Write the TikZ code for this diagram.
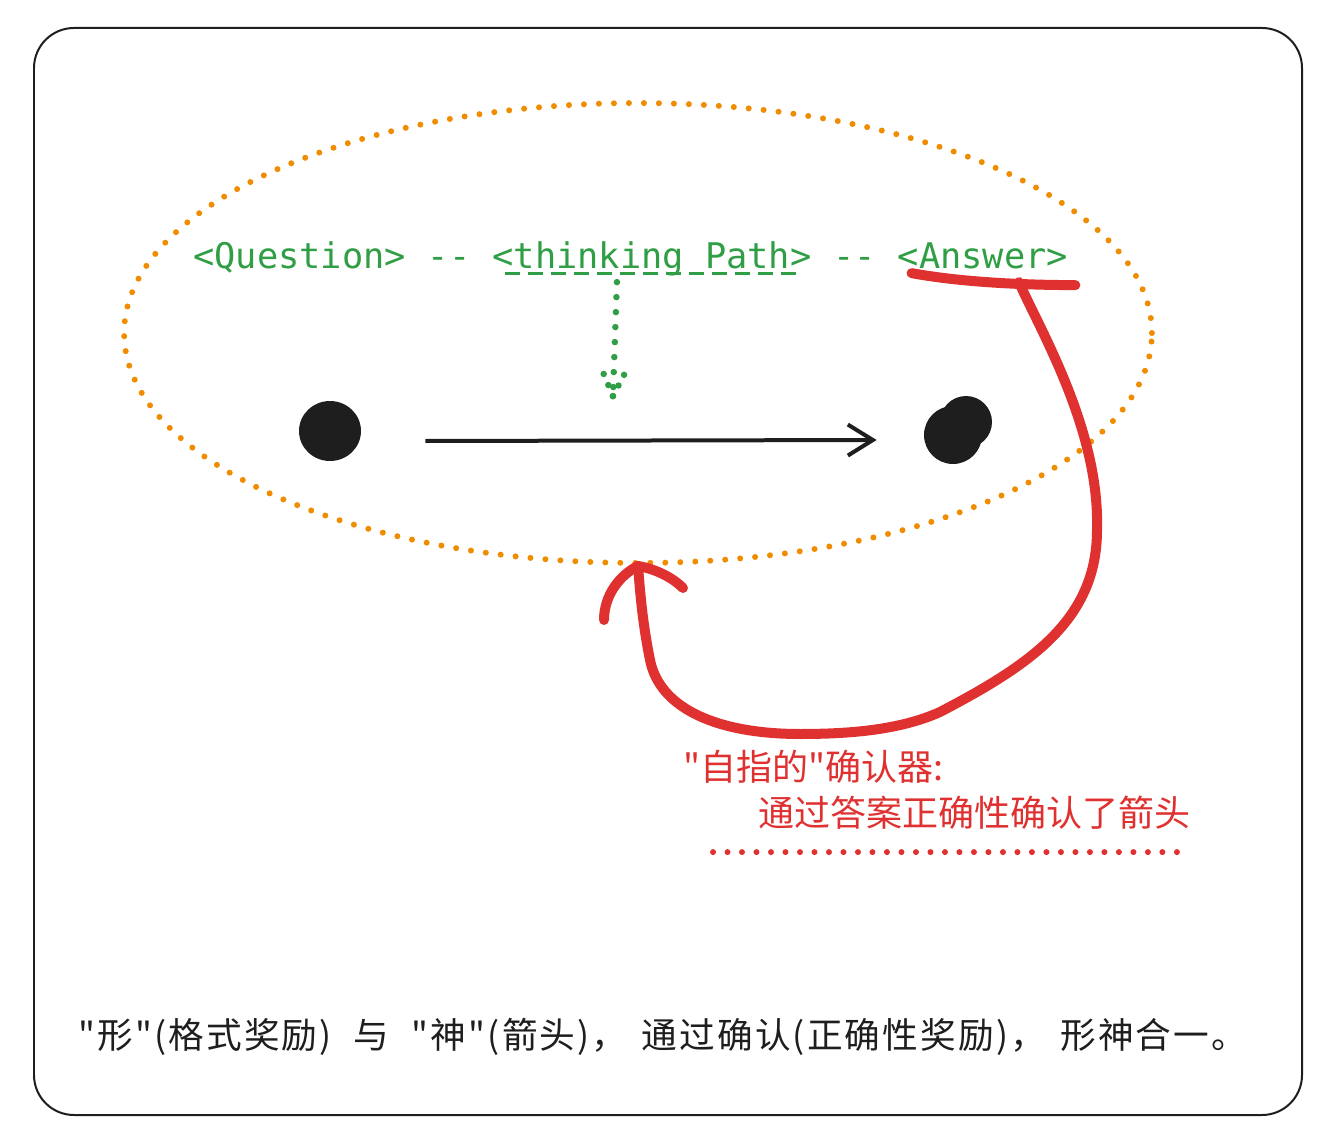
\documentclass[tikz,border=0pt]{standalone}
\usepackage{fontspec}
\usepackage{tikz}
\usetikzlibrary{arrows.meta, positioning, shapes.geometric, calc}
\newfontfamily\cjk{Noto Sans CJK SC}
\newfontfamily\cjkwide{Noto Sans CJK SC}[LetterSpace=6, WordSpace=2.2]
\newfontfamily\codefont{DejaVu Sans Mono}
\definecolor{inkblack}{HTML}{1E1E1E}
\definecolor{inkgreen}{HTML}{2F9E44}
\definecolor{inkred}{HTML}{E03131}
\definecolor{inkorange}{HTML}{F08C00}
\tikzset{%
	tag/.style={inner sep=0pt, text=inkgreen, font=\codefont\fontsize{20.1pt}{24pt}\selectfont,%
		text height=0.75em, text depth=0.25em},
	tagsep/.style={tag, inner xsep=0.426cm},
	ring/.style={draw=inkorange, ellipse, line width=0.12cm, line cap=round,%
		dash pattern=on 0pt off 0.3cm, minimum width=20.56cm, minimum height=9.2cm},
	blob/.style={fill=inkblack, inner sep=0pt, circle, minimum size=1cm},
	flow/.style={-{Straight Barb[length=0.5cm, width=0.62cm]}, line width=0.08cm, draw=inkblack},
	hint/.style={draw=inkgreen, line width=0.13cm, line cap=round, dash pattern=on 0pt off 0.3cm},
	hintbarb/.style={hint, dash pattern=on 0pt off 0.24cm},
	gdash/.style={draw=inkgreen, line width=0.06cm, dash pattern=on 0.3cm off 0.16cm},
	check/.style={draw=inkred, line width=0.2cm, line cap=round, line join=round},
	reddots/.style={draw=inkred, line width=0.12cm, line cap=round, dash pattern=on 0pt off 0.29cm},
	note/.style={inner sep=0pt, text=inkred, anchor=west, font=\cjk\fontsize{20.5pt}{24pt}\selectfont},
	summary/.style={inner sep=0pt, text=inkblack, anchor=west, font=\cjkwide\fontsize{20.3pt}{24pt}\selectfont}
}
\begin{document}
\begin{tikzpicture}[x=0.02cm, y=-0.02cm]
	\useasboundingbox (0,0) rectangle (1336,1142);
	\draw[inkblack, line width=0.04cm, rounded corners=0.8cm] (34,28) rectangle (1302,1115);

	\node[ring] (scope) at (638,333) {};

	\node[tag, anchor=west] (q) at (193,264) {<Question>};
	\node[tagsep, right=0pt of q] (s1) {-{}-};
	\node[tag, right=0pt of s1] (t) {<thinking Path>};
	\node[tagsep, right=0pt of t] (s2) {-{}-};
	\node[tag, right=0pt of s2] (a) {<Answer>};
	\draw[gdash] ($(t.south west)+(13,0)$) -- ($(t.south east)+(-11,0)$);

	\coordinate (hinttip) at ($(t.south)+(-39,123)$);
	\draw[hint] ($(t.south)+(-35,9)$) -- (hinttip);
	\draw[hintbarb] (hinttip) -- ++(-10,-24);
	\draw[hintbarb] (hinttip) -- ++(12,-23);

	\node[blob, ellipse, minimum width=1.24cm, minimum height=1.2cm] (src) at (330,431) {};
	\node[blob, minimum size=1.16cm] (dst) at (953,435) {};
	\fill[inkblack] (966,422) circle (0.52cm);
	\draw[flow] ($(src.east)+(64,10)$) -- ($(dst.west)+(-47,5)$);

	\draw[check] ($(a.south west)+(14,0)$) .. controls (960,282) and (1020,285) .. ($(a.south east)+(7,12)$);
	\draw[check] ($(a.south)+(36,9)$) .. controls (1040,330) and (1100,430) .. (1097,530)
		.. controls (1097,620) and (1030,665) .. (940,712)
		.. controls (900,730) and (850,734) .. (800,734)
		.. controls (720,734) and (660,710) .. (650,660)
		.. controls (642,620) and (640,590) .. (scope.south);
	\draw[check] (scope.south) .. controls (620,575) and (604,595) .. (604,620);
	\draw[check] (scope.south) .. controls (660,570) and (675,580) .. (683,588);

	\node[note] (note1) at (683,767) {"自指的"确认器:};
	\node[note] (note2) at (758,813) {通过答案正确性确认了箭头};
	\draw[reddots] ($(note2.south west)+(-45,22)$) -- ($(note2.south east)+(-7,22)$);

	\node[summary] (sum) at (78,1037) {"形"(格式奖励) 与 "神"(箭头)，\hspace{0.4em}通过确认(正确性奖励)，\hspace{0.4em}形神合一。};
\end{tikzpicture}
\end{document}
